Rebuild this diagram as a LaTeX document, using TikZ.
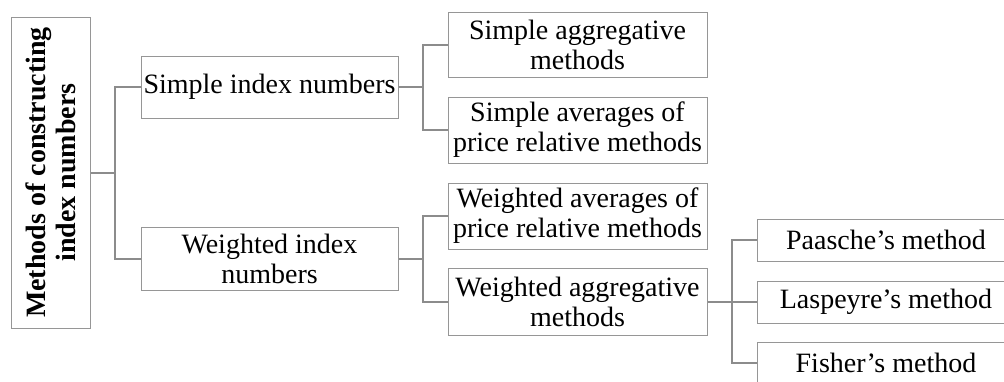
\documentclass[tikz,border=0pt]{standalone}
\usepackage{fontspec}
\setmainfont{Liberation Serif}
\definecolor{boxgray}{RGB}{150,150,150}
\definecolor{linkgray}{RGB}{140,140,140}
\begin{document}
\begin{tikzpicture}[x=1pt, y=-1pt,
    box/.style={draw=boxgray, line width=1pt, align=center, inner sep=2pt,
        font=\fontsize{28}{30}\selectfont},
    link/.style={draw=linkgray, line width=2pt}]
\useasboundingbox (0,0) rectangle (1004,381);
% tree of boxes
\node[box, rotate=90, minimum width=311, minimum height=79, font=\fontsize{28}{30}\selectfont\bfseries]
    (root) at (50.5,172.5) {Methods of constructing\\index numbers};
\node[box, minimum width=257, minimum height=62] (simple) at (269.5,87) {Simple index numbers};
\node[box, minimum width=257, minimum height=63] (weighted) at (269.5,259) {Weighted index\\numbers};
\node[box, minimum width=259, minimum height=65] (sagg) at (577.5,44.5) {Simple aggregative\\methods};
\node[box, minimum width=259, minimum height=66] (savg) at (577.5,130) {Simple averages of\\price relative methods};
\node[box, minimum width=259, minimum height=66] (wavg) at (577.5,216) {Weighted averages of\\price relative methods};
\node[box, minimum width=259, minimum height=67] (wagg) at (577.5,302) {Weighted aggregative\\methods};
\node[box, minimum width=258, minimum height=42] (paasche) at (886,240) {Paasche’s method};
\node[box, minimum width=258, minimum height=42] (laspeyre) at (886,302) {Laspeyre’s method};
\node[box, minimum width=258, minimum height=42] (fisher) at (886,363) {Fisher’s method};

% forks
\coordinate (j0) at (115,172.5);
\coordinate (j1) at (423,87);
\coordinate (j2) at (423,259);
\coordinate (j3) at (732,302);

\draw[link] (root.south) -- (j0);
\draw[link] (j0) |- (simple.west);
\draw[link] (j0) |- (weighted.west);
\draw[link] (simple.east) -- (j1);
\draw[link] (j1) |- (sagg.west);
\draw[link] (j1) |- (savg.west);
\draw[link] (weighted.east) -- (j2);
\draw[link] (j2) |- (wavg.west);
\draw[link] (j2) |- (wagg.west);
\draw[link] (wagg.east) -- (j3);
\draw[link] (j3) |- (paasche.west);
\draw[link] (j3) |- (fisher.west);
\draw[link] (j3) -- (laspeyre.west);
\end{tikzpicture}
\end{document}
